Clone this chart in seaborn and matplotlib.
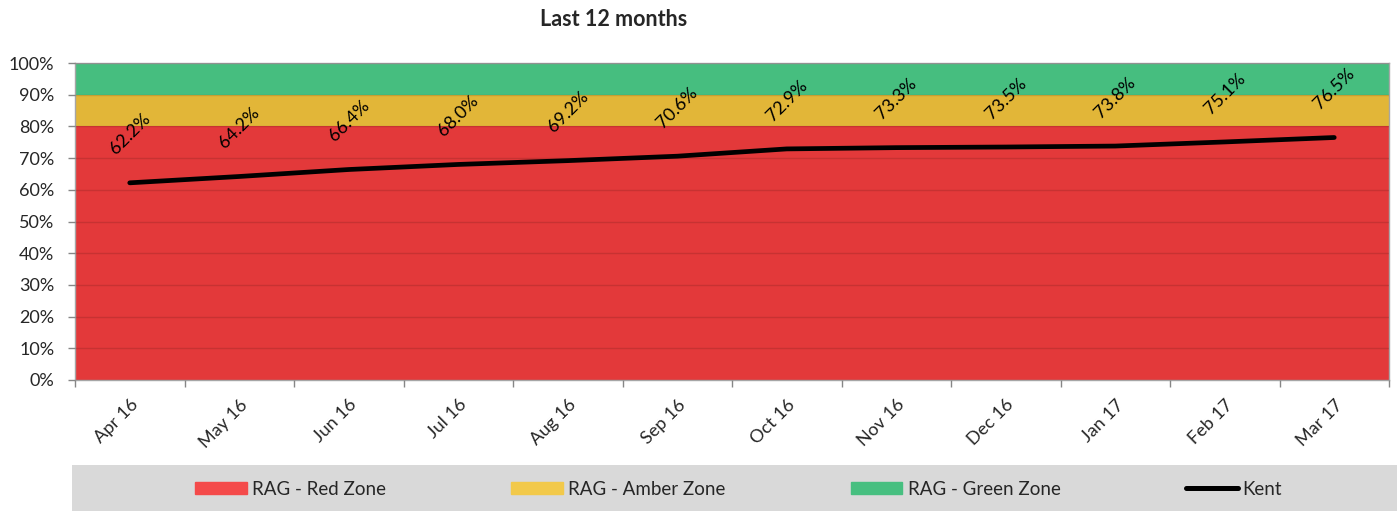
import numpy as np
import pandas as pd
import matplotlib.pyplot as plt
import matplotlib.patches as mpatches
import matplotlib.lines as mlines
import seaborn as sns

# data
months = ['Apr 16', 'May 16', 'Jun 16', 'Jul 16', 'Aug 16', 'Sep 16',
          'Oct 16', 'Nov 16', 'Dec 16', 'Jan 17', 'Feb 17', 'Mar 17']
kent = [62.2, 64.2, 66.4, 68.0, 69.2, 70.6, 72.9, 73.3, 73.5, 73.8, 75.1, 76.5]
red_zone = [80] * 12
amber_zone = [10] * 12
green_zone = [10] * 12

sns.set_style('white')
plt.rcParams['font.family'] = ['Lato', 'DejaVu Sans']

RED = '#E3393A'
AMBER = '#E2B638'
GREEN = '#46BE7F'

fig = plt.figure(figsize=(13.97, 5.11), dpi=100)
ax = fig.add_axes([75 / 1397, 1 - 380 / 511, 1314 / 1397, 317 / 511])

df = pd.DataFrame({'month': months, 'kent': kent, 'red': red_zone,
                   'amber': amber_zone, 'green': green_zone})
x = np.arange(len(df))

# zones span the whole category width, so extend by half a category each side
xe = np.r_[x[0] - 0.5, x, x[-1] + 0.5]
def ext(v):
    v = np.asarray(v, dtype=float)
    return np.r_[v[0], v, v[-1]]

r = ext(df['red'])
a = r + ext(df['amber'])
g = a + ext(df['green'])
ax.fill_between(xe, 0, r, color=RED, lw=0, zorder=1)
ax.fill_between(xe, r, a, color=AMBER, lw=0, zorder=1)
ax.fill_between(xe, a, g, color=GREEN, lw=0, zorder=1)

ax.set_yticks(np.arange(0, 101, 10))
ax.yaxis.grid(True, color='#000000', alpha=0.12, lw=1, zorder=2)
ax.set_axisbelow(False)

sns.lineplot(x=x, y=df['kent'], ax=ax, color='black', lw=3.4,
             solid_capstyle='round', zorder=4)

for xi, v in zip(x, df['kent']):
    ax.annotate(f'{v:.1f}%', (xi, v), xytext=(0, 35), textcoords='offset points',
                rotation=45, ha='center', va='center', fontsize=13,
                color='black', zorder=5)

ax.set_xlim(-0.5, len(df) - 0.5)
ax.set_ylim(0, 100)
ax.set_yticklabels([f'{t}%' for t in range(0, 101, 10)], fontsize=13)
ax.set_xticks(x)
ax.set_xticklabels(df['month'], rotation=45, ha='right', rotation_mode='anchor',
                   fontsize=13)
ax.set_xticks(np.arange(-0.5, len(df), 1), minor=True)
ax.tick_params(axis='x', which='major', length=0, pad=12)
ax.tick_params(axis='x', which='minor', length=5, color='#868686', width=1,
               direction='out', bottom=True)
ax.tick_params(axis='y', length=5, color='#868686', width=1, direction='out',
               left=True, pad=10)
for s in ax.spines.values():
    s.set_color('#A6A6A6')
    s.set_linewidth(1)
ax.set_xlabel('')
ax.set_ylabel('')

fig.text(614 / 1397, 1 - 20 / 511, 'Last 12 months', ha='center', va='center',
         fontsize=15.5, fontweight='bold')

# legend band
lax = fig.add_axes([72 / 1397, 0, 1 - 72 / 1397, 46 / 511])
lax.set_facecolor('#D9D9D9')
lax.set_xticks([])
lax.set_yticks([])
for s in lax.spines.values():
    s.set_visible(False)

handles = [mpatches.Patch(color='#F44A4A', label='RAG - Red Zone'),
           mpatches.Patch(color='#F2C94A', label='RAG - Amber Zone'),
           mpatches.Patch(color='#47BF80', label='RAG - Green Zone'),
           mlines.Line2D([], [], color='black', lw=3.6, solid_capstyle='round',
                         label='Kent')]
fig.legend(handles=handles, ncol=4, loc='center left',
           bbox_to_anchor=(195 / 1397, 1 - 489 / 511), frameon=False,
           fontsize=13.5, handlelength=2.75, handleheight=0.64,
           handletextpad=0.27, columnspacing=6.7, borderpad=0,
           borderaxespad=0)

fig.savefig('out.png', dpi=100)
